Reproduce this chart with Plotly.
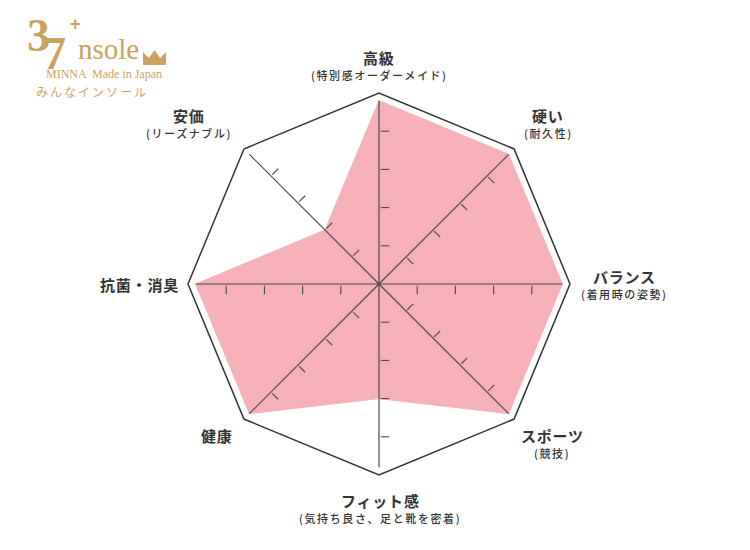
import math
import plotly.graph_objects as go

# ---- data ----
categories = ["高級", "硬い", "バランス", "スポーツ", "フィット感", "健康", "抗菌・消臭", "安価"]
subtitles = ["(特別感オーダーメイド)", "(耐久性)", "(着用時の姿勢)", "(競技)",
             "(気持ち良さ、足と靴を密着)", "", "", "(リーズナブル)"]
values = [4.8, 4.8, 4.8, 4.8, 3, 4.8, 4.8, 2]
tick_values = [1, 2, 3, 4]
r_max = 5
spoke_len = 4.8

W, H = 750, 550
OFF = 8  # page body margin
CX, CY, R = 379, 284, 191  # pixel centre and outer radius of the chart
PINK = "#f6b1b8"
GOLD = "#c9a461"
DARK = "#333333"


def px(x):
    return (x - OFF) / W


def py(y):
    return 1 - (y - OFF) / H


domain = dict(x=[px(CX - R), px(CX + R)], y=[py(CY + R), py(CY - R)])

fig = go.Figure()

# filled polygon
fig.add_trace(go.Scatterpolar(
    r=values + values[:1], theta=categories + categories[:1],
    fill="toself", fillcolor=PINK, mode="lines",
    line=dict(color=PINK, width=1), hoverinfo="skip", subplot="polar"))

# spokes
sr, st = [], []
for c in categories:
    sr += [0, spoke_len, None]
    st += [c, c, None]
fig.add_trace(go.Scatterpolar(
    r=sr, theta=st, mode="lines", line=dict(color="#4a4a4a", width=1.2),
    hoverinfo="skip", subplot="polar"))

# tick marks (offset to one side of each spoke), on an overlaid linear polar
unit_px = R / r_max
d = 6 / unit_px
tr, tt, ta = [], [], []
for i, _ in enumerate(categories):
    th = math.radians(45 * i)
    ux, uy = math.sin(th), math.cos(th)
    pxv, pyv = math.cos(th), -math.sin(th)
    if pxv < -1e-9 or (abs(pxv) < 1e-9 and pyv > 0):
        pxv, pyv = -pxv, -pyv
    phi = math.degrees(math.atan2(pxv, pyv))
    for k in tick_values:
        X = k * ux + d * pxv
        Y = k * uy + d * pyv
        tr.append(math.hypot(X, Y))
        tt.append(math.degrees(math.atan2(X, Y)) % 360)
        ta.append(phi)
fig.add_trace(go.Scatterpolar(
    r=tr, theta=tt, mode="markers",
    marker=dict(symbol="line-ns", size=6, angle=ta,
                line=dict(color="#4a4a4a", width=1.1)),
    hoverinfo="skip", subplot="polar2"))

fig.update_layout(
    width=W, height=H, margin=dict(l=0, r=0, t=0, b=0),
    paper_bgcolor="white", plot_bgcolor="white", showlegend=False,
    polar=dict(
        domain=domain, bgcolor="rgba(0,0,0,0)", gridshape="linear",
        radialaxis=dict(range=[0, r_max], visible=False, showgrid=False),
        angularaxis=dict(type="category", categoryarray=categories,
                         rotation=90, direction="clockwise",
                         showline=True, linecolor=DARK, linewidth=1.5,
                         showgrid=False, showticklabels=False, ticks=""),
    ),
    polar2=dict(
        domain=domain, bgcolor="rgba(0,0,0,0)",
        radialaxis=dict(range=[0, r_max], visible=False, showgrid=False),
        angularaxis=dict(rotation=90, direction="clockwise", visible=False,
                         showgrid=False, showline=False),
    ),
)

# axis labels
label_pos = [(379, 57, 75), (548, 115, 133), (624, 276, 294), (552, 435, 453),
             (380, 500, 518), (217, 435, None), (139, 284, None), (189, 116, 133)]
ann = []
for cat, sub, (x, y1, y2) in zip(categories, subtitles, label_pos):
    ann.append(dict(x=px(x), y=py(y1), xref="paper", yref="paper",
                    text='<span style="letter-spacing:0.8px">%s</span>' % cat,
                    showarrow=False, xanchor="center", yanchor="middle",
                    font=dict(family="Noto Sans CJK JP", size=15, color=DARK,
                              weight="bold")))
    if sub and y2 is not None:
        ann.append(dict(x=px(x), y=py(y2), xref="paper", yref="paper",
                        text='<span style="letter-spacing:1.6px">%s</span>' % sub,
                        showarrow=False, xanchor="center", yanchor="middle",
                        font=dict(family="Noto Sans CJK JP", size=11, color=DARK,
                                  weight=500)))

# logo: "3" and a lowered "7" in one text
ann.append(dict(x=px(25), y=py(8), xref="paper", yref="paper",
                text='<span style="letter-spacing:-7px">3</span>'
                     '<span style="baseline-shift:-18px">7</span>',
                showarrow=False, xanchor="left", yanchor="top",
                font=dict(family="Liberation Serif", size=46, color=GOLD,
                          weight="bold")))
ann.append(dict(x=px(75), y=py(24), xref="paper", yref="paper", text="+",
                showarrow=False, xanchor="center", yanchor="middle",
                font=dict(family="Liberation Sans", size=18, color=GOLD,
                          weight="bold")))
ann.append(dict(x=px(109), y=py(67), xref="paper", yref="paper", text="nsole",
                showarrow=False, xanchor="center", yanchor="bottom",
                font=dict(family="Liberation Serif", size=29, color=GOLD)))
ann.append(dict(x=px(104), y=py(74), xref="paper", yref="paper",
                text="MINNA  Made in Japan",
                showarrow=False, xanchor="center", yanchor="middle",
                font=dict(family="Liberation Serif", size=12, color=GOLD)))
ann.append(dict(x=px(92), y=py(92), xref="paper", yref="paper",
                text='<span style="letter-spacing:2px">みんなインソール</span>',
                showarrow=False, xanchor="center", yanchor="middle",
                font=dict(family="Noto Sans CJK JP", size=12, color=GOLD)))
fig.update_layout(annotations=ann)


# crown
def P(x, y):
    return "%.4f,%.4f" % (px(x), py(y))


crown = ("M " + P(143, 65) + " L " + P(143, 52) + " L " + P(149, 58) + " L " +
         P(154.5, 50) + " L " + P(160, 58) + " L " + P(166, 52) + " L " +
         P(166, 65) + " Z")
fig.add_shape(type="path", path=crown, xref="paper", yref="paper",
              fillcolor=GOLD, line=dict(color=GOLD, width=0))

fig.write_html("out.html")
